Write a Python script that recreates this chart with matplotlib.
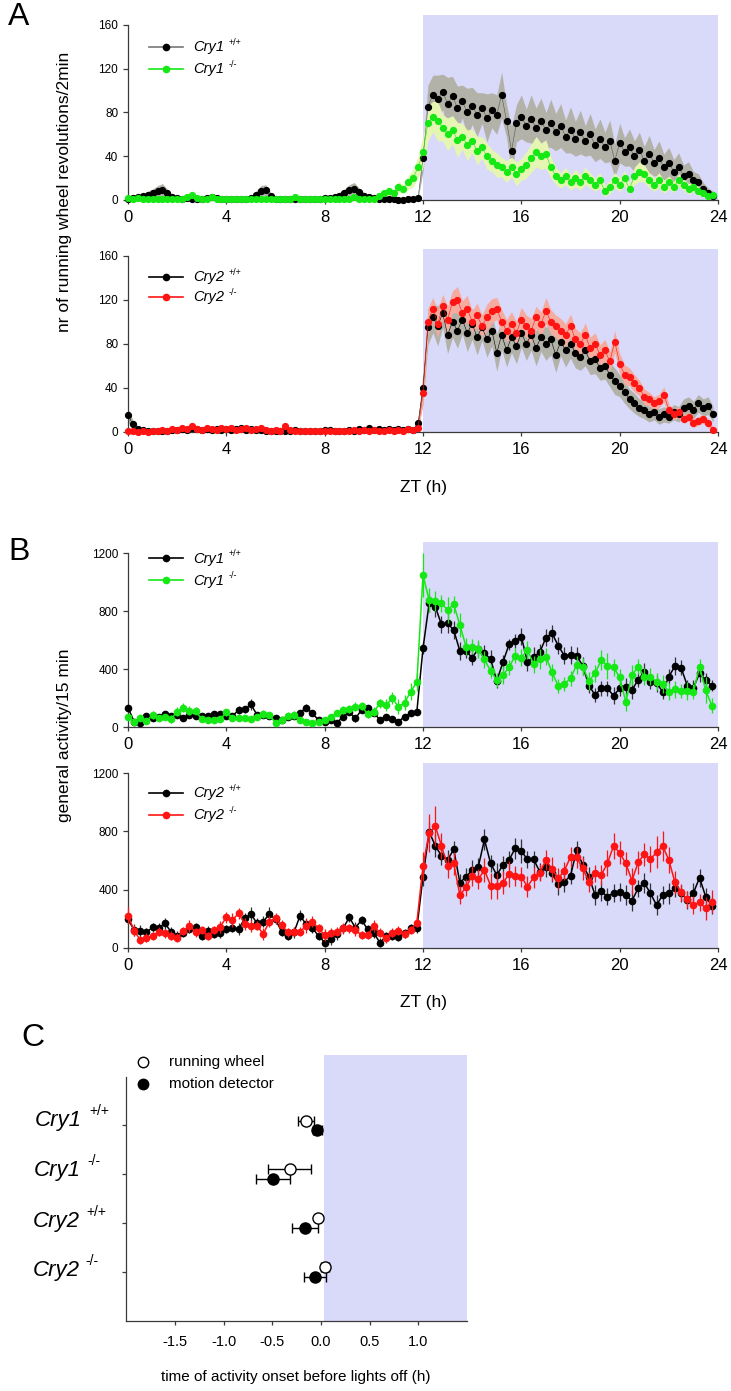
import numpy as np
import matplotlib
matplotlib.use('Agg')
import matplotlib.pyplot as plt
from matplotlib.lines import Line2D

plt.rcParams['font.family'] = ['Liberation Sans', 'DejaVu Sans']

# ---------------- DATA ----------------
# Panel A: running wheel revolutions / 2 min, sampled every 0.2 h (ZT 0 .. 23.8)
tA = np.arange(120) * 0.2
a_cry1_wt = [1,2,3,4,5,6,8,9,6,3, 2,1,2,1,1,1,2,3,2,1, 1,1,1,1,1,2,5,8,9,4, 1,1,1,1,1,1,1,1,1,1,
             2,2,3,4,6,9,10,7,4,3, 2,1,1,1,1,0,0,1,1,2,
             38,85,96,92,99,88,95,84,90,80, 86,78,84,75,82,78,96,72,45,70, 76,68,74,66,72,64,70,62,68,58,
             64,56,62,54,60,50,56,48,54,36, 52,44,48,40,46,36,42,34,38,30, 34,26,30,22,24,18,16,10,6,4]
a_cry1_wt_err = [1,1,2,2,3,4,5,6,4,2, 1,1,1,1,1,1,1,2,1,1, 1,1,1,1,1,1,3,5,5,3, 1,1,1,1,1,1,1,1,1,1,
                 1,1,2,3,4,5,6,4,3,2, 1,1,1,1,1,1,1,1,1,1,
                 12,20,18,22,16,24,18,20,15,22, 17,20,14,22,16,18,21,15,22,17, 20,15,22,18,21,16,22,17,20,15,
                 21,16,20,14,19,15,18,14,19,15, 18,13,17,14,16,13,17,12,16,12, 14,11,13,10,11,8,8,6,5,4]
a_cry1_ko = [2,1,2,1,1,1,1,1,1,1, 1,1,3,5,2,1,1,3,1,1, 1,1,1,1,1,1,1,1,1,1, 1,1,1,1,3,1,1,1,1,1,
             1,1,1,1,1,1,3,1,1,1, 1,4,6,8,6,12,10,16,20,30,
             44,70,76,72,66,60,64,55,58,50, 54,45,48,40,36,32,30,26,30,24, 28,32,38,44,40,42,30,22,18,22,
             16,20,16,22,18,14,18,8,12,18, 14,20,10,22,26,24,18,14,18,12, 16,12,18,14,10,12,8,6,4,5]
a_cry1_ko_err = [1,1,1,1,1,1,1,1,1,1, 1,1,2,3,2,1,1,2,1,1, 1,1,1,1,1,1,1,1,1,1, 1,1,1,1,2,1,1,1,1,1,
                 1,1,1,1,1,1,2,1,1,1, 1,2,3,4,3,5,4,6,8,10,
                 14,16,14,18,12,15,13,16,12,14, 11,13,10,12,10,11,9,10,9,11, 10,12,13,14,12,13,10,8,7,8,
                 7,8,7,8,7,6,7,5,6,7, 6,7,5,8,9,8,7,6,7,6, 6,5,6,5,5,4,4,3,3,3]
a_cry2_wt = [15,7,3,2,1,1,1,1,1,2, 2,3,2,4,3,2,3,2,3,2, 3,2,3,4,2,3,2,2,1,1, 1,1,1,1,2,1,1,1,1,1,
             2,2,1,1,1,2,1,3,2,4, 2,3,2,3,2,3,2,3,2,8,
             40,95,104,96,108,88,100,92,102,90, 98,86,95,84,92,72,88,74,86,78, 90,80,88,76,86,80,84,70,82,74,
             80,72,68,74,64,66,58,60,52,46, 42,36,30,26,22,20,16,18,14,16, 14,18,16,22,24,20,26,22,24,16]
a_cry2_wt_err = [6,4,2,1,1,1,1,1,1,1, 1,2,1,2,1,1,2,1,1,1, 1,1,1,2,1,1,1,1,1,1, 1,1,1,1,1,1,1,1,1,1,
                 1,1,1,1,1,1,1,2,1,2, 1,1,1,1,1,1,1,1,1,3,
                 14,16,14,18,13,17,14,16,13,17, 14,16,12,16,14,17,13,15,14,16, 13,15,14,16,13,15,14,16,13,15,
                 13,14,12,14,12,13,11,12,11,12, 10,10,9,9,8,8,7,7,7,7, 6,7,7,8,8,8,8,8,8,7]
a_cry2_ko = [1,1,0,1,0,1,1,2,1,3, 2,4,3,5,3,2,4,3,2,4, 3,4,2,3,4,2,3,4,2,1, 2,1,5,2,1,1,1,1,1,1,
             1,1,1,1,1,1,2,1,2,1, 2,1,1,2,1,2,1,3,2,4,
             35,100,112,98,114,102,118,120,108,112, 100,106,96,104,110,112,100,92,98,90, 102,96,92,104,98,110,100,96,92,88,
             96,84,80,88,76,80,70,74,64,82, 62,52,50,44,40,32,30,26,28,34, 20,16,18,12,14,8,10,12,8,2]
a_cry2_ko_err = [1,1,1,1,1,1,1,1,1,2, 1,2,1,2,1,1,2,1,1,2, 1,2,1,1,2,1,1,2,1,1, 1,1,2,1,1,1,1,1,1,1,
                 1,1,1,1,1,1,1,1,1,1, 1,1,1,1,1,1,1,1,1,2,
                 10,12,10,12,11,12,10,12,11,12, 10,11,10,12,11,10,11,10,11,10, 11,10,11,10,11,12,11,10,11,10,
                 11,10,10,11,10,10,9,10,9,10, 9,9,8,8,7,7,6,6,6,7, 5,5,5,4,4,4,4,4,4,3]

# Panel B: general activity / 15 min (ZT 0 .. 23.75)
tB = np.arange(96) * 0.25
b_cry1_wt = [133,37,25,76,64,71,87,76,80,60, 85,76,76,76,87,90,76,76,117,122, 156,83,83,76,60,48,71,76,99,133,
             94,48,37,48,30,71,101,60,117,129, 99,48,71,53,37,71,94,106,
             543,853,830,708,715,669,524,524,478,538, 508,469,317,446,570,593,623,446,485,515,
             616,646,561,492,497,492,421,285,221,267, 267,216,267,278,255,324,382,313,301,244,
             347,421,409,285,271,370,324,285]
b_cry1_wt_err = [20,15,15,20,15,15,20,15,15,20, 15,15,20,15,15,20,15,15,25,25, 40,20,20,15,15,15,20,20,20,25,
                 20,20,15,15,15,20,20,25,20,20, 20,20,20,20,20,20,20,20,
                 40,60,70,60,70,60,60,50,50,50, 60,60,50,50,40,50,60,60,70,60, 60,60,60,60,60,60,60,50,50,50,
                 50,60,50,60,60,50,60,50,60,50, 50,60,50,40,50,60,50,40]
b_cry1_ko = [71,37,60,40,83,60,67,55,106,133, 113,113,53,48,48,53,101,64,60,60, 55,71,90,83,30,48,78,83,48,37,
             25,37,48,71,94,117,124,140,145,90, 106,163,150,198,140,168,244,310,
             1048,876,869,853,807,846,703,554,554,538, 467,386,324,359,411,492,478,531,432,469,
             485,377,283,297,336,428,416,317,370,462, 421,411,343,172,359,416,347,347,313,297,
             244,260,248,248,244,416,255,147]
b_cry1_ko_err = [20,20,20,20,25,20,20,25,30,30, 30,25,20,20,20,20,25,20,20,20, 20,20,25,20,20,20,25,25,20,20,
                 20,20,20,20,20,30,30,30,25,25, 30,30,40,40,50,50,60,60,
                 150,80,70,60,90,60,80,60,50,60, 60,50,50,60,50,50,60,60,60,70, 60,60,50,50,50,60,60,60,60,70,
                 90,60,60,60,70,50,60,60,60,60, 60,60,50,60,50,50,90,50]
b_cry2_wt = [197,123,117,107,142,139,169,112,85,105, 130,142,85,119,96,101,130,139,130,203, 233,169,181,233,197,112,85,107,222,162,
             135,85,37,62,94,135,210,139,192,128, 101,37,82,82,78,101,135,135,
             489,798,702,633,604,677,448,489,535,558, 745,581,501,569,604,684,665,608,608,524,
             558,512,437,455,496,672,569,489,363,391, 352,379,386,363,325,409,448,375,295,363,
             375,409,375,329,379,482,352,290]
b_cry2_wt_err = [30,40,40,30,30,30,40,30,30,30, 30,30,30,30,30,30,30,30,40,40, 50,40,40,50,30,30,30,40,40,30,
                 30,30,30,40,40,30,30,40,30,30, 30,30,30,30,30,30,30,30,
                 60,70,80,60,70,60,60,60,70,60, 70,60,80,60,60,70,80,60,60,60, 70,60,70,70,60,60,60,70,70,70,
                 60,60,60,70,70,60,70,70,70,60, 70,60,60,60,70,60,60,60]
b_cry2_ko = [222,119,55,71,82,112,101,85,71,117, 151,107,123,82,123,146,210,192,238,165, 151,153,96,181,203,160,107,112,112,153,
             181,135,89,105,112,135,135,123,89,89, 151,105,66,105,119,96,123,174,
             562,791,837,702,562,581,363,416,496,473, 535,427,427,448,507,494,489,421,485,517,
             604,542,478,530,626,622,546,455,512,501, 581,700,654,581,462,588,642,610,656,700,
             604,450,382,334,295,313,272,318]
b_cry2_ko_err = [60,40,30,30,30,30,30,30,30,30, 40,30,30,30,30,40,40,50,40,40, 40,30,40,40,40,30,30,30,30,50,
                 40,30,40,30,30,40,30,40,30,30, 40,30,30,30,30,30,30,30,
                 100,130,140,90,80,80,60,60,70,70, 80,90,90,80,90,70,70,70,70,60, 70,80,70,60,70,70,80,70,60,70,
                 90,90,80,80,90,80,80,90,110,100, 90,80,60,60,60,60,80,80]

# Panel C: time of activity onset before lights off (h)
genotypes = ['Cry1', 'Cry1', 'Cry2', 'Cry2']
genotype_sup = ['+/+', '-/-', '+/+', '-/-']
c_pos = [4, 3, 2, 1]
wheel_mean = [-0.157, -0.32, -0.027, 0.04]
wheel_err = [0.08, 0.22, 0.02, 0.045]
motion_mean = [-0.037, -0.495, -0.162, -0.062]
motion_err = [0.05, 0.175, 0.134, 0.108]

# ---------------- STYLE ----------------
W, H = 731, 1391
SHADE = '#d9d9fa'
GREEN = '#16e816'
RED = '#ff1414'
GREY_BAND = '#b3b2a8'
GREEN_BAND = '#e4f6b2'
RED_BAND = '#f5ab9e'
SPINE = '#3a3a3a'

fig = plt.figure(figsize=(W / 100, H / 100), dpi=100)


def axpx(l, t, r, b):
    return fig.add_axes([l / W, 1 - b / H, (r - l) / W, (b - t) / H])


def ftext(x, y, s, **kw):
    return fig.text(x / W, 1 - y / H, s, **kw)


def style_time_axis(ax, ytop_tick, ylim_top, yticks):
    ax.set_xlim(0, 24)
    ax.set_ylim(0, ylim_top)
    ax.axvspan(12, 24, color=SHADE, lw=0, zorder=0)
    for s in ['top', 'right']:
        ax.spines[s].set_visible(False)
    for s in ['left', 'bottom']:
        ax.spines[s].set_color(SPINE)
        ax.spines[s].set_linewidth(0.9)
    ax.spines['left'].set_bounds(0, ytop_tick)
    ax.set_xticks(range(0, 25, 4))
    ax.set_yticks(yticks)
    ax.tick_params(axis='x', labelsize=12, length=3, pad=4.5, color=SPINE, width=0.9)
    ax.tick_params(axis='y', labelsize=8.5, length=3.5, pad=3.5, color=SPINE, width=0.9)


def legend_px(rows, labels, sups, colors, linecolors):
    for y, lab, sup, c, lc in zip(rows, labels, sups, colors, linecolors):
        fig.add_artist(Line2D([149 / W, 183 / W], [1 - y / H] * 2, transform=fig.transFigure,
                              color=lc, lw=1.2))
        fig.add_artist(Line2D([166 / W], [1 - y / H], transform=fig.transFigure,
                              marker='o', ms=4.5, color=c, lw=0))
        ftext(193, y + 4.5, lab, fontsize=10.5, style='italic', va='baseline', ha='left')
        ftext(229, y - 2, sup, fontsize=6.5, va='baseline', ha='left')


def band(ax, m, e, color, z):
    m = np.asarray(m, float)
    e = np.asarray(e, float)
    ax.fill_between(tA, np.clip(m - e, 0, None), m + e, color=color, lw=0, zorder=z)


def dots(ax, m, col, lcol, z):
    ax.plot(tA, m, color=lcol, lw=0.4, marker='o', ms=4.2, mfc=col, mec=col,
            zorder=z, clip_on=False)


# ---------- Panel A top ----------
axA1 = axpx(128, 15, 718, 200)
style_time_axis(axA1, 160, 169, [0, 40, 80, 120, 160])
band(axA1, a_cry1_wt, a_cry1_wt_err, GREY_BAND, 1)
band(axA1, a_cry1_ko, a_cry1_ko_err, GREEN_BAND, 1.5)
dots(axA1, a_cry1_wt, 'black', '#555555', 3)
dots(axA1, a_cry1_ko, GREEN, GREEN, 4)
legend_px([47, 69], ['Cry1', 'Cry1'], ['+/+', '-/-'], ['black', GREEN], ['#777777', GREEN])

# ---------- Panel A bottom ----------
axA2 = axpx(128, 249, 718, 432)
style_time_axis(axA2, 160, 166, [0, 40, 80, 120, 160])
band(axA2, a_cry2_wt, a_cry2_wt_err, GREY_BAND, 1)
band(axA2, a_cry2_ko, a_cry2_ko_err, RED_BAND, 1.5)
dots(axA2, a_cry2_wt, 'black', 'black', 3)
dots(axA2, a_cry2_ko, RED, RED, 4)
legend_px([277, 297], ['Cry2', 'Cry2'], ['+/+', '-/-'], ['black', RED], ['black', RED])

ftext(424, 488, 'ZT (h)', fontsize=12.5, ha='center', va='center')
ftext(65, 332, 'nr of running wheel revolutions/2min', fontsize=12.5, rotation=90,
      ha='center', va='bottom')

# ---------- Panel B top ----------
axB1 = axpx(128, 542, 718, 727)
style_time_axis(axB1, 1200, 1276, [0, 400, 800, 1200])
axB1.errorbar(tB, b_cry1_wt, yerr=b_cry1_wt_err, fmt='-o', color='black', ecolor='#333333',
              ms=4.5, lw=1.1, elinewidth=0.9, capsize=0, zorder=3, clip_on=False)
axB1.errorbar(tB, b_cry1_ko, yerr=b_cry1_ko_err, fmt='-o', color=GREEN, ecolor=GREEN,
              ms=4.5, lw=1.1, elinewidth=0.9, capsize=0, zorder=4, clip_on=False)
legend_px([558, 580], ['Cry1', 'Cry1'], ['+/+', '-/-'], ['black', GREEN], ['black', GREEN])

# ---------- Panel B bottom ----------
axB2 = axpx(128, 763, 718, 948)
style_time_axis(axB2, 1200, 1270, [0, 400, 800, 1200])
axB2.errorbar(tB, b_cry2_wt, yerr=b_cry2_wt_err, fmt='-o', color='black', ecolor='#333333',
              ms=4.5, lw=1.1, elinewidth=0.9, capsize=0, zorder=3, clip_on=False)
axB2.errorbar(tB, b_cry2_ko, yerr=b_cry2_ko_err, fmt='-o', color=RED, ecolor=RED,
              ms=4.5, lw=1.1, elinewidth=0.9, capsize=0, zorder=4, clip_on=False)
legend_px([793, 815], ['Cry2', 'Cry2'], ['+/+', '-/-'], ['black', RED], ['black', RED])

ftext(424, 1003, 'ZT (h)', fontsize=12.5, ha='center', va='center')
ftext(65, 822, 'general activity/15 min', fontsize=12.5, rotation=90, ha='center', va='bottom')

# ---------- Panel C ----------
axC = axpx(126.4, 1054.5, 467, 1321)
axC.set_xlim(-2.0, 1.5)
axC.set_ylim(0, 5.45)
axC.axvspan(0.03, 1.5, color=SHADE, lw=0, zorder=0)
for s in ['top', 'right']:
    axC.spines[s].set_visible(False)
for s in ['left', 'bottom']:
    axC.spines[s].set_color(SPINE)
    axC.spines[s].set_linewidth(0.9)
axC.spines['left'].set_bounds(0, 5)
axC.set_yticks(c_pos)
axC.set_yticklabels([])
xt = [-1.5, -1.0, -0.5, 0.0, 0.5, 1.0]
axC.set_xticks(xt)
axC.set_xticklabels(['%.1f' % v for v in xt])
axC.tick_params(axis='x', labelsize=10.5, length=3, pad=7, color=SPINE, width=0.9)
axC.tick_params(axis='y', length=3, color=SPINE, width=0.9)
pos = np.array(c_pos, float)
axC.errorbar(wheel_mean, pos + 0.1, xerr=wheel_err, fmt='o', mfc='white', mec='black', mew=1.0,
             ms=8, ecolor='black', elinewidth=1.0, capsize=3.5, capthick=1.0, zorder=3)
axC.errorbar(motion_mean, pos - 0.1, xerr=motion_err, fmt='o', mfc='black', mec='black',
             ms=8, ecolor='black', elinewidth=1.0, capsize=3.5, capthick=1.0, zorder=3)
axC.plot([-1.83], [5.30], 'o', mfc='white', mec='black', ms=7.5, mew=1.0, clip_on=False)
axC.plot([-1.83], [4.85], 'o', mfc='black', mec='black', ms=7.5, clip_on=False)
axC.text(-1.56, 5.30, 'running wheel', fontsize=11, va='center', ha='left')
axC.text(-1.56, 4.85, 'motion detector', fontsize=11, va='center', ha='left')

lab_x = [35, 34, 33, 33]
sup_x = [89, 87, 86, 85]
base_y = [1126, 1176, 1227, 1276]
for g, s, lx, sx, by in zip(genotypes, genotype_sup, lab_x, sup_x, base_y):
    ftext(lx, by, g, fontsize=16, style='italic', ha='left', va='baseline')
    ftext(sx, by - 11, s, fontsize=10, ha='left', va='baseline')

ftext(296, 1377, 'time of activity onset before lights off (h)', fontsize=11, ha='center', va='center')

# Panel letters
ftext(19, 17, 'A', fontsize=23, ha='center', va='center')
ftext(19, 552, 'B', fontsize=23, ha='center', va='center')
ftext(33, 1038, 'C', fontsize=23, ha='center', va='center')

fig.savefig('out.png', dpi=100)
